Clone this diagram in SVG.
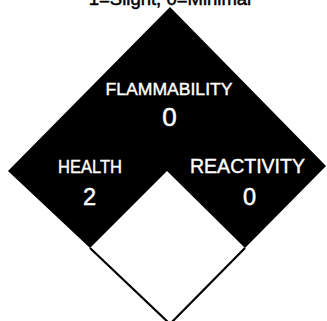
<svg xmlns="http://www.w3.org/2000/svg" width="327" height="321" viewBox="0 0 327 321">
<style>
.lbl{font-family:"Liberation Sans",Arial,sans-serif;fill:#fff;stroke:#fff;stroke-width:0.4;text-anchor:middle}
.num{font-family:"Liberation Sans",Arial,sans-serif;fill:#fff;stroke:#fff;stroke-width:0.5;text-anchor:middle;font-size:26px}
</style>
<rect width="327" height="321" fill="#fff"/>
<text x="170" y="5" font-family="Liberation Sans,Arial,sans-serif" font-size="18.5" text-anchor="middle" fill="#000" stroke="#000" stroke-width="0.5">1=Slight, 0=Minimal</text>
<g id="diamond">
<path d="M170,7 L326,166 L245,248 L167,171 L90,248 L8,171 Z" fill="#000"/>
</g>
<g id="special">
<path d="M90,248 L170,324 L245,248" fill="none" stroke="#000" stroke-width="2.2"/>
</g>
<g id="flammability">
<text class="lbl" x="169" y="95" font-size="16.5" textLength="127" lengthAdjust="spacingAndGlyphs">FLAMMABILITY</text>
<text class="num" x="169.5" y="125.5" font-size="26">0</text>
</g>
<g id="health">
<text class="lbl" x="90" y="173" font-size="18" textLength="64" lengthAdjust="spacingAndGlyphs">HEALTH</text>
<text class="num" x="89.5" y="205" style="font-size:23.5px">2</text>
</g>
<g id="reactivity">
<text class="lbl" x="247.5" y="173" font-size="20" textLength="115" lengthAdjust="spacingAndGlyphs">REACTIVITY</text>
<text class="num" x="249.5" y="205" style="font-size:23.5px">0</text>
</g>
<g id="connectors"></g>
</svg>
